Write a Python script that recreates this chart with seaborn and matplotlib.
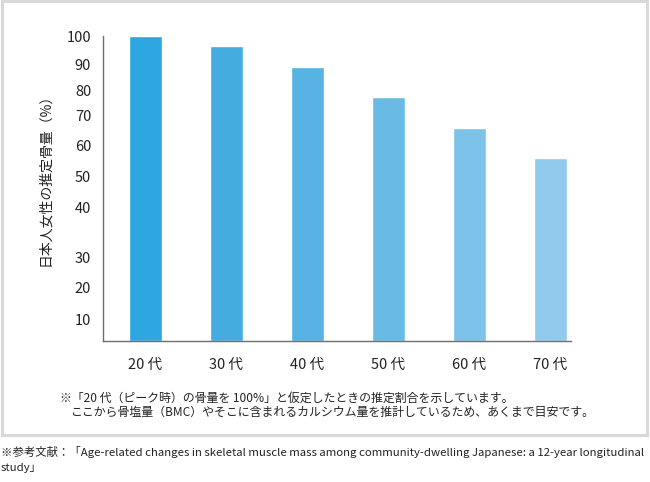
import numpy as np
import pandas as pd
import seaborn as sns
import matplotlib.pyplot as plt
from matplotlib.patches import Rectangle

# data
ages = ['20 代', '30 代', '40 代', '50 代', '60 代', '70 代']
bone_pct = [100, 96.5, 88.8, 77.1, 65.7, 55.7]
bar_colors = ['#2ea7e1', '#44acdf', '#56b3e3', '#69bbe6', '#7cc2e9', '#90caed']

# the y axis of the original is not linear: tick value -> height
tick_vals = [0, 10, 20, 30, 40, 50, 60, 70, 80, 90, 100]
tick_pos = [0, 22, 54, 84, 134, 165, 196, 226, 251, 277, 305]

note_1 = '※「20 代（ピーク時）の骨量を 100%」と仮定したときの推定割合を示しています。'
note_2 = 'ここから骨塩量（BMC）やそこに含まれるカルシウム量を推計しているため、あくまで目安です。'
ref_1 = ('※参考文献：「Age-related changes in skeletal muscle mass among '
         'community-dwelling Japanese: a 12-year longitudinal')
ref_2 = 'study」'

sns.set_style('white')
plt.rcParams['font.family'] = ['Noto Sans CJK JP', 'DejaVu Sans']

df = pd.DataFrame({'age': ages, 'pct': bone_pct})

fig = plt.figure(figsize=(6.5, 4.82), dpi=100)
ax = fig.add_axes([0.1585, 0.2925, 0.72, 0.6328])


def fwd(v):
    return np.interp(v, tick_vals, tick_pos)


def inv(p):
    return np.interp(p, tick_pos, tick_vals)


ax.set_yscale('function', functions=(fwd, inv))
sns.barplot(data=df, x='age', y='pct', hue='age', palette=bar_colors,
            legend=False, width=0.407, saturation=1, ax=ax)

ax.set_ylim(0, 100)
ax.set_xlim(-0.525, 5.253)
ax.set_yticks(tick_vals[1:])
ax.set_yticklabels([str(v) for v in tick_vals[1:]])
ax.yaxis.set_minor_locator(plt.NullLocator())
ax.tick_params(axis='y', length=0, pad=8.5, labelsize=10.5, labelcolor='#222222')
ax.tick_params(axis='x', length=0, pad=12.5, labelsize=10.5, labelcolor='#222222')
ax.set_xlabel('')
ax.set_ylabel('')
for side in ['top', 'right']:
    ax.spines[side].set_visible(False)
for side in ['left', 'bottom']:
    ax.spines[side].set_color('#6e6e6e')
    ax.spines[side].set_linewidth(1)

fig.text(45 / 650, 1 - 176 / 482, '日本人女性の推定骨量（%）', rotation=90,
         ha='center', va='center', fontsize=10, color='#222222')

fig.text(60 / 650, 1 - 398 / 482, note_1, ha='left', va='center',
         fontsize=8.6, color='#222222')
fig.text(71 / 650, 1 - 412 / 482, note_2, ha='left', va='center',
         fontsize=8.6, color='#222222')

# light grey frame round the chart panel
fig.patches.append(Rectangle((0.0025, 0.0975), 0.9925, 0.8995,
                             transform=fig.transFigure, fill=False,
                             edgecolor='#d9d9d9', linewidth=2.2))

fig.text(1 / 650, 1 - 452 / 482, ref_1, ha='left', va='center',
         fontsize=8.2, color='#222222')
fig.text(1 / 650, 1 - 468 / 482, ref_2, ha='left', va='center',
         fontsize=8.2, color='#222222')

fig.savefig('out.png', dpi=100)
